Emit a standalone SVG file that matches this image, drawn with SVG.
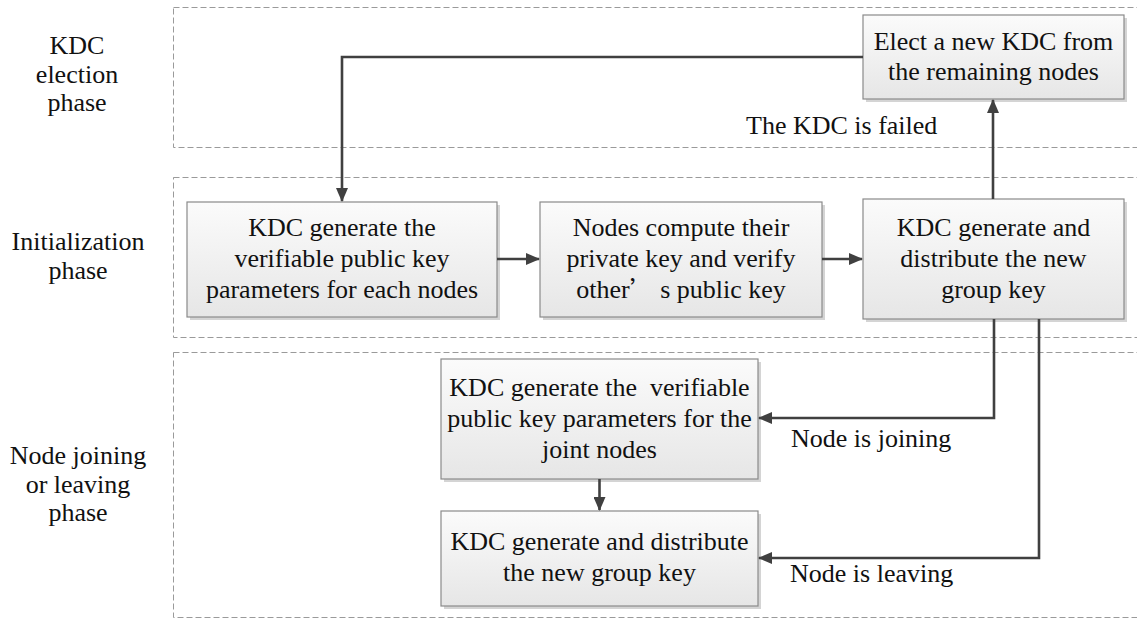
<svg xmlns="http://www.w3.org/2000/svg" width="1137" height="619" viewBox="0 0 1137 619">
  <style>
    .phase { fill: none; stroke: #9a9a9a; stroke-width: 1; stroke-dasharray: 6 3; }
    .box { fill: url(#boxFill); stroke: #8a8a8a; stroke-width: 1.2; }
    .shadow { fill: #d4d4d4; }
    .t { font-size: 26px; fill: #111; text-anchor: middle; }
    .lbl { font-size: 26px; fill: #111; }
    .wire { fill: none; stroke: #404040; stroke-width: 2.6; }
  </style>
  <defs>
    <linearGradient id="boxFill" x1="0" y1="0" x2="0" y2="1">
      <stop offset="0" stop-color="#fbfbfb"/>
      <stop offset="1" stop-color="#e6e6e6"/>
    </linearGradient>
    <marker id="arrow" viewBox="0 0 14 12" refX="13" refY="6" markerWidth="14" markerHeight="12" markerUnits="userSpaceOnUse" orient="auto">
      <path d="M0,0 L14,6 L0,12 z" fill="#404040"/>
    </marker>
  </defs>

  <rect width="1137" height="619" fill="#ffffff"/>

  <!-- phase bands -->
  <g id="bands">
    <rect class="phase" x="173.5" y="7.5" width="975" height="140"/>
    <rect class="phase" x="173.5" y="177.5" width="975" height="160"/>
    <rect class="phase" x="173.5" y="352.5" width="975" height="265"/>
  </g>

  <g font-family="'Liberation Serif', 'Times New Roman', 'DejaVu Serif', serif">
  <!-- phase titles -->
  <g id="phase-titles">
    <text class="t" x="77" y="54">KDC</text>
    <text class="t" x="77" y="83">election</text>
    <text class="t" x="77" y="111">phase</text>
    <text class="t" x="78" y="250">Initialization</text>
    <text class="t" x="78" y="279">phase</text>
    <text class="t" x="78" y="464">Node joining</text>
    <text class="t" x="78" y="493">or leaving</text>
    <text class="t" x="78" y="521">phase</text>
  </g>

  <!-- nodes -->
  <g id="elect">
    <rect class="shadow" x="866" y="18" width="261" height="84"/>
    <rect class="box" x="863" y="15" width="261" height="84"/>
    <text class="t" x="993.5" y="50">Elect a new KDC from</text>
    <text class="t" x="993.5" y="80">the remaining nodes</text>
  </g>

  <g id="init-params">
    <rect class="shadow" x="190" y="205" width="310" height="115"/>
    <rect class="box" x="187" y="202" width="310" height="115"/>
    <text class="t" x="342" y="236">KDC generate the</text>
    <text class="t" x="342" y="267">verifiable public key</text>
    <text class="t" x="342" y="298">parameters for each nodes</text>
  </g>

  <g id="compute-keys">
    <rect class="shadow" x="543" y="205" width="282" height="115"/>
    <rect class="box" x="540" y="202" width="282" height="115"/>
    <text class="t" x="681" y="236">Nodes compute their</text>
    <text class="t" x="681" y="267">private key and verify</text>
    <text class="t" x="681" y="298">other<tspan font-family="'Noto Sans CJK SC', sans-serif" font-size="24">’</tspan> s public key</text>
  </g>

  <g id="distribute-key">
    <rect class="shadow" x="866" y="202" width="261" height="120"/>
    <rect class="box" x="863" y="199" width="261" height="120"/>
    <text class="t" x="993.5" y="236">KDC generate and</text>
    <text class="t" x="993.5" y="267">distribute the new</text>
    <text class="t" x="993.5" y="298">group key</text>
  </g>

  <g id="join-params">
    <rect class="shadow" x="444" y="362" width="317" height="120"/>
    <rect class="box" x="441" y="359" width="317" height="120"/>
    <text class="t" x="599.5" y="396" xml:space="preserve">KDC generate the  verifiable</text>
    <text class="t" x="599.5" y="427">public key parameters for the</text>
    <text class="t" x="599.5" y="458">joint nodes</text>
  </g>

  <g id="rekey">
    <rect class="shadow" x="444" y="514" width="317" height="95"/>
    <rect class="box" x="441" y="511" width="317" height="95"/>
    <text class="t" x="599.5" y="550">KDC generate and distribute</text>
    <text class="t" x="599.5" y="581">the new group key</text>
  </g>

  <!-- connector labels -->
  <g id="connector-labels">
    <text class="lbl" x="746" y="134">The KDC is failed</text>
    <text class="lbl" x="791" y="447">Node is joining</text>
    <text class="lbl" x="790" y="582">Node is leaving</text>
  </g>
  </g>

  <!-- connectors -->
  <g id="connectors">
    <path class="wire" d="M863,57 H342 V201" marker-end="url(#arrow)"/>
    <path class="wire" d="M497,259 H539" marker-end="url(#arrow)"/>
    <path class="wire" d="M822,259 H862" marker-end="url(#arrow)"/>
    <path class="wire" d="M993,199 V100" marker-end="url(#arrow)"/>
    <path class="wire" d="M599.5,479 V510" marker-end="url(#arrow)"/>
    <path class="wire" d="M994,319 V418 H759" marker-end="url(#arrow)"/>
    <path class="wire" d="M1039,319 V558 H759" marker-end="url(#arrow)"/>
  </g>
</svg>
